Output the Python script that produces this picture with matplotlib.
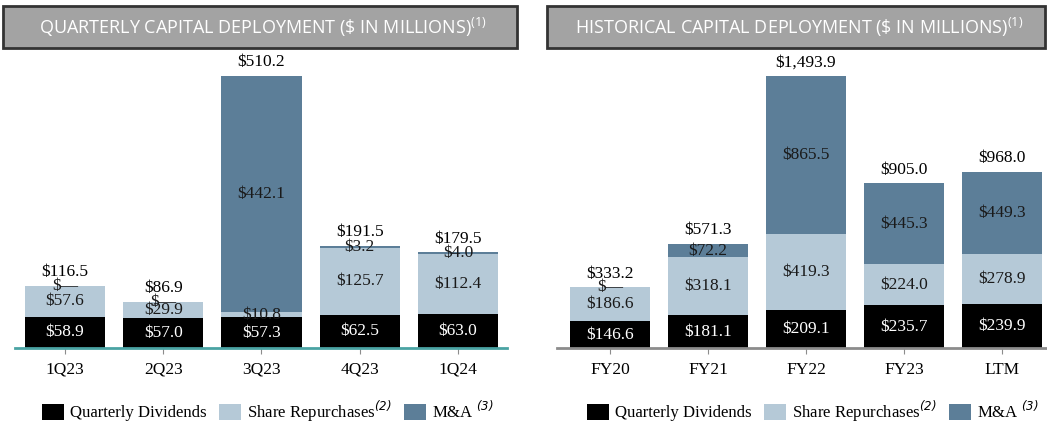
import matplotlib.pyplot as plt
from matplotlib.patches import Patch, Rectangle

plt.rcParams['font.family'] = ['Liberation Serif']
plt.rcParams['mathtext.fontset'] = 'custom'
# rm is used for the italic legend superscripts (digits can't go through 'it')
plt.rcParams['mathtext.rm'] = 'DejaVu Sans:italic'
plt.rcParams['mathtext.sf'] = 'Open Sans'

# quarterly data ($M)
quarters = ['1Q23', '2Q23', '3Q23', '4Q23', '1Q24']
q_div = [58.9, 57.0, 57.3, 62.5, 63.0]
q_rep = [57.6, 29.9, 10.8, 125.7, 112.4]
q_mna = [0.0, 0.0, 442.1, 3.2, 4.0]
q_tot = [116.5, 86.9, 510.2, 191.5, 179.5]

# historical data ($M)
years = ['FY20', 'FY21', 'FY22', 'FY23', 'LTM']
y_div = [146.6, 181.1, 209.1, 235.7, 239.9]
y_rep = [186.6, 318.1, 419.3, 224.0, 278.9]
y_mna = [0.0, 72.2, 865.5, 445.3, 449.3]
y_tot = [333.2, 571.3, 1493.9, 905.0, 968.0]

C_DIV = '#000000'
C_REP = '#b5c9d7'
C_MNA = '#5c7e98'


def fmt(v):
    return '$\u2014' if v == 0 else '${:,.1f}'.format(v)


def draw(ax, cats, div, rep, mna, tot, axis_color, xlim):
    x = range(len(cats))
    w = 0.816
    b1 = ax.bar(x, div, w, color=C_DIV)
    b2 = ax.bar(x, rep, w, bottom=div, color=C_REP)
    bot = [d + r for d, r in zip(div, rep)]
    b3 = ax.bar(x, mna, w, bottom=bot, color=C_MNA)
    ax.bar_label(b1, labels=[fmt(v) for v in div], label_type='center',
                 color='white', fontsize=12.5)
    ax.bar_label(b2, labels=[fmt(v) for v in rep], label_type='center',
                 color='#1a1a1a', fontsize=12.5)
    ax.bar_label(b3, labels=[fmt(v) for v in mna], label_type='center',
                 color='#1a1a1a', fontsize=12.5)
    for i, t in enumerate(tot):
        ax.annotate(fmt(t), (i, t), xytext=(0, 4), textcoords='offset points',
                    ha='center', va='bottom', fontsize=12.5)
    ax.set_xticks(list(x))
    ax.set_xticklabels(cats, fontsize=12.5)
    ax.set_xlim(*xlim)
    ax.set_ylim(0, max(tot))
    ax.set_yticks([])
    for s in ['top', 'left', 'right']:
        ax.spines[s].set_visible(False)
    ax.spines['bottom'].set_color(axis_color)
    ax.spines['bottom'].set_linewidth(2)
    ax.tick_params(axis='x', length=4, color='#8c8c8c', pad=6)


fig = plt.figure(figsize=(10.47, 4.21), dpi=100)
ax1 = fig.add_axes([15 / 1047, 0.1734, 492 / 1047, 272 / 421])
ax2 = fig.add_axes([557 / 1047, 0.1734, 490 / 1047, 272 / 421])

draw(ax1, quarters, q_div, q_rep, q_mna, q_tot, '#4aa3a3', (-0.51, 4.5))
draw(ax2, years, y_div, y_rep, y_mna, y_tot, '#8c8c8c', (-0.54, 4.46))

# title boxes
titles = [('QUARTERLY CAPITAL DEPLOYMENT (\\$ IN MILLIONS)$^{\\mathsf{(1)}}$', 3, 517),
          ('HISTORICAL CAPITAL DEPLOYMENT (\\$ IN MILLIONS)$^{\\mathsf{(1)}}$', 547, 1045)]
for txt, x0, x1 in titles:
    fig.patches.append(Rectangle((x0 / 1047, 1 - 48 / 421), (x1 - x0) / 1047, 42 / 421,
                                 transform=fig.transFigure, facecolor='#a3a3a3',
                                 edgecolor='#333333', linewidth=2))
    fig.text((x0 + x1) / 2 / 1047 + 3 / 1047, 1 - 27 / 421, txt, ha='center', va='center',
             color='white', fontsize=13, family='Open Sans')

handles = [Patch(facecolor=C_DIV), Patch(facecolor=C_REP), Patch(facecolor=C_MNA)]
labels = ['Quarterly Dividends', 'Share Repurchases$^{(2)}$', 'M&A $^{(3)}$']
for cx in [268 / 1047, 813 / 1047]:
    fig.legend(handles, labels, loc='center', bbox_to_anchor=(cx, 10 / 421), ncol=3,
               frameon=False, fontsize=12.1, handlelength=1.3, handleheight=1.1,
               handletextpad=0.4, columnspacing=0.7, borderaxespad=0, borderpad=0)

fig.savefig('out.png', dpi=100)
